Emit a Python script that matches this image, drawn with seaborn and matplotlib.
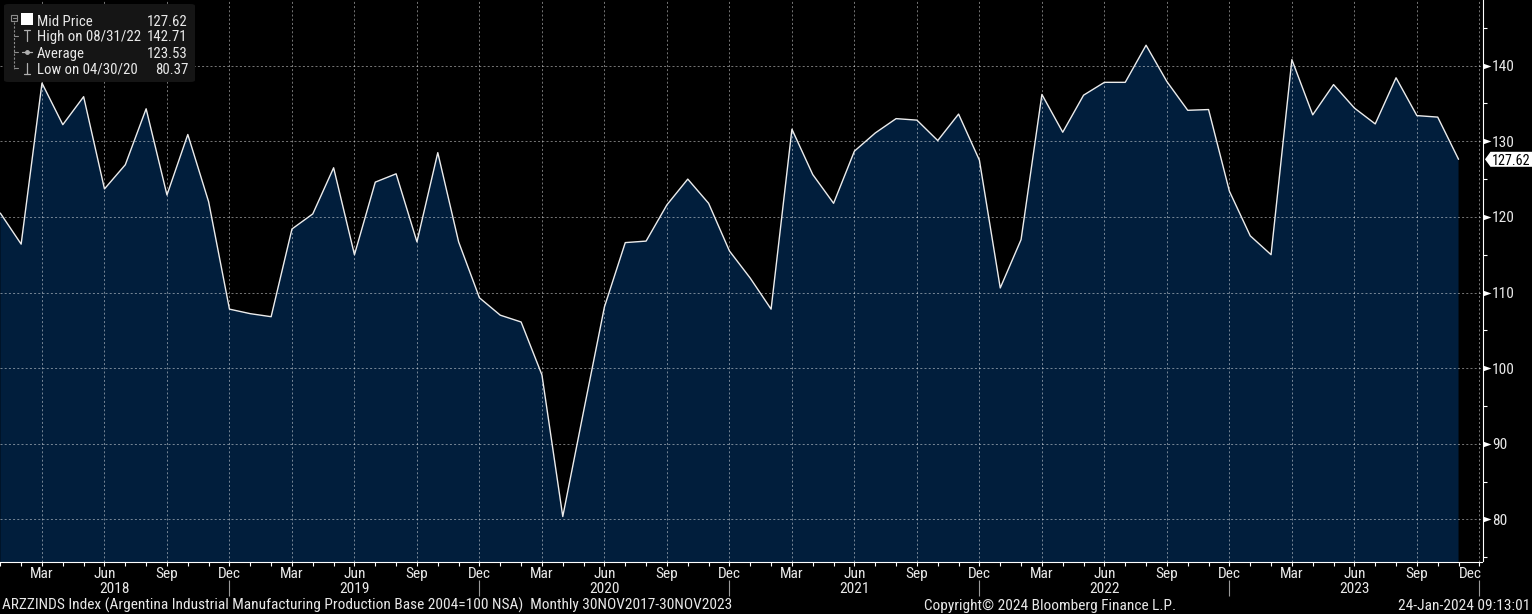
import os
import numpy as np
import pandas as pd
import matplotlib
matplotlib.use('Agg')
import matplotlib.pyplot as plt
import matplotlib.transforms as mtransforms
from matplotlib.patches import FancyBboxPatch, Polygon, Rectangle
from matplotlib.lines import Line2D
from matplotlib.path import Path
from matplotlib import font_manager as fm
import seaborn as sns

# ---------------- data ----------------
start_month = '2018-01'
values_2018 = [120.5, 116.4, 137.7, 132.2, 135.9, 123.7, 126.9, 134.3, 122.9, 130.9, 122.0, 107.8]
values_2019 = [107.2, 106.8, 118.4, 120.4, 126.5, 115.0, 124.6, 125.7, 116.7, 128.5, 116.7, 109.3]
values_2020 = [107.0, 106.1, 99.1, 80.37, 94.3, 108.1, 116.6, 116.8, 121.6, 125.0, 121.8, 115.5]
values_2021 = [111.9, 107.8, 131.6, 125.6, 121.8, 128.7, 131.1, 133.0, 132.8, 130.1, 133.6, 127.5]
values_2022 = [110.6, 117.0, 136.2, 131.2, 136.1, 137.8, 137.8, 142.71, 137.9, 134.1, 134.2, 123.4]
values_2023 = [117.5, 115.0, 140.8, 133.5, 137.5, 134.4, 132.3, 138.4, 133.4, 133.2, 127.62]
values = values_2018 + values_2019 + values_2020 + values_2021 + values_2022 + values_2023
months = pd.period_range(start_month, periods=len(values), freq='M')

quarter_labels = ['Mar', 'Jun', 'Sep', 'Dec']
year_labels = ['2018', '2019', '2020', '2021', '2022', '2023']
y_major = [80, 90, 100, 110, 120, 130, 140]
y_minor = [75, 85, 95, 105, 115, 125, 135, 145]

legend_labels = ['Mid Price', 'High on 08/31/22', 'Average', 'Low on 04/30/20']
legend_values = ['127.62', '142.71', '123.53', '80.37']
last_label = '127.62'
footer_left = 'ARZZINDS Index (Argentina Industrial Manufacturing Production Base 2004=100 NSA)  Monthly 30NOV2017-30NOV2023'
footer_mid = 'Copyright\u00a9 2024 Bloomberg Finance L.P.'
footer_right = '24-Jan-2024 09:13:01'

# ---------------- style ----------------
sns.set_style('dark', {'axes.facecolor': 'black', 'figure.facecolor': 'black'})


def pick_font():
    bad = ['bold', 'italic', 'oblique', 'light', 'medium', 'black', 'thin', 'semibold', 'heavy', 'mono']
    best, best_score = None, -1
    for f in fm.fontManager.ttflist:
        base = os.path.basename(f.fname).lower()
        if any(b in base for b in bad) or f.style != 'normal':
            continue
        score = -1
        if f.name in ('Liberation Sans Narrow', 'Arial Narrow'):
            score = 10
        elif 'notosans-condensed' in base or 'notosanscondensed' in base.replace('-', ''):
            score = 9
        elif 'robotocondensed' in base.replace('-', '').replace('_', ''):
            score = 8
        elif 'notosans-semicondensed' in base:
            score = 7.5
        elif 'opensans' in base and 'condensed' in base and 'semi' not in base and 'extra' not in base:
            score = 7
        elif 'dejavusanscondensed' in base:
            score = 6
        if score > best_score:
            best, best_score = f, score
    return best


fobj = pick_font()
if fobj is not None:
    FP = fm.FontProperties(fname=fobj.fname)
    plt.rcParams['font.family'] = [fobj.name, 'DejaVu Sans']
    plt.rcParams['font.stretch'] = fobj.stretch
else:
    FP = fm.FontProperties(family='DejaVu Sans')
    plt.rcParams['font.family'] = ['DejaVu Sans']

TXT = '#e8e8e8'
FILL = '#011e3c'

W, H = 1532, 614
fig = plt.figure(figsize=(W / 100, H / 100), dpi=100, facecolor='black')
renderer = fig.canvas.get_renderer()


def text_width(s, size):
    p = FP.copy()
    p.set_size(size)
    t = fig.text(0, 0, s, fontproperties=p)
    w = t.get_window_extent(renderer).width
    t.remove()
    return w


# font size: footer a little wider than the reference (699 px) to keep glyph height closer
FS = min(11.2, 10 * 730 / text_width(footer_left, 10))


def fprop(size=None):
    p = FP.copy()
    p.set_size(FS if size is None else size)
    return p


# legend size: keep a gap between the label and value columns (37..188 px)
LFS = FS
while LFS > 7:
    need = max(text_width(a, LFS) + text_width(b, LFS) for a, b in zip(legend_labels, legend_values))
    if need <= 188 - 37 - 5:
        break
    LFS -= 0.1

ax_left, ax_right, ax_top, ax_bot = 0, 1482.5, 0, 561.5
ax = fig.add_axes([ax_left / W, 1 - ax_bot / H, (ax_right - ax_left) / W, (ax_bot - ax_top) / H])
ax.set_facecolor('black')

x = np.arange(len(values))
ax.fill_between(x, values, 0, color=FILL, lw=0, zorder=1)
sns.lineplot(x=x, y=values, ax=ax, color='#ececec', lw=1.0, zorder=3)

ax.set_xlim(-0.015, len(values) + 0.15)
ax.set_ylim(74.42, 148.69)

qpos = np.arange(2, len(values) + 1, 3)
ax.set_xticks(qpos)
ax.set_xticklabels([quarter_labels[i % 4] for i in range(len(qpos))])
ax.set_xticks(np.arange(0, len(values) + 1), minor=True)
ax.yaxis.tick_right()
ax.set_yticks(y_major)
ax.set_yticks(y_minor, minor=True)
ax.set_axisbelow('line')
ax.grid(True, which='major', color='white', alpha=0.45, lw=0.72, ls=(0, (2, 2.2)))

for s in ['left', 'top']:
    ax.spines[s].set_visible(False)
for s in ['right', 'bottom']:
    ax.spines[s].set_visible(True)
    ax.spines[s].set_color('white')
    ax.spines[s].set_linewidth(0.8)

ax.tick_params(axis='x', which='both', direction='out', length=3.2, width=0.8, color='white',
               labelcolor=TXT, labelsize=FS, pad=0.8, bottom=True)
ax.tick_params(axis='y', which='major', length=0, pad=7, labelcolor=TXT, labelsize=FS, right=True, left=False)
ax.tick_params(axis='y', which='minor', direction='out', length=3, width=0.8, color='white', right=True, left=False)
ax.set_xlabel('')
ax.set_ylabel('')
for lbl in ax.get_xticklabels() + ax.get_yticklabels():
    lbl.set_fontproperties(fprop())

lbls = ax.get_xticklabels()
off = mtransforms.ScaledTranslation(-9 / 100, 0, fig.dpi_scale_trans)
lbls[-1].set_transform(lbls[-1].get_transform() + off)

# triangle tick markers on the right axis
tri = Path([(0, -0.7), (2, 0), (0, 0.7), (0, -0.7)], [Path.MOVETO, Path.LINETO, Path.LINETO, Path.CLOSEPOLY])
yblend = mtransforms.blended_transform_factory(ax.transAxes, ax.transData)
ax.plot(np.ones(len(y_major)), y_major, ls='none', marker=tri, markersize=11.5, color='white',
        mec='none', transform=yblend, clip_on=False, zorder=5)

# year labels and separators
xblend = mtransforms.blended_transform_factory(ax.transData, ax.transAxes)
x0, x1 = ax.get_xlim()
dec_pos = np.arange(11, len(values) + 1, 12)
for k, yl in enumerate(year_labels):
    lo = max(x0, dec_pos[k] - 12)
    hi = min(x1, dec_pos[k])
    ax.text((lo + hi) / 2, (ax_bot - 593) / (ax_bot - ax_top), yl, transform=xblend, ha='center',
            va='baseline', color=TXT, fontproperties=fprop())
ax.vlines(dec_pos, (ax_bot - 580) / ax_bot, (ax_bot - 596) / ax_bot, transform=xblend,
          colors='#9a9a9a', lw=0.8, clip_on=False)

# last value tag
fig.canvas.draw()
spine_x = ax.transAxes.transform((1, 0))[0]
ty = ax.transData.transform((0, values[-1]))[1]
hh = 7.5
TFS = FS
while TFS > 7 and text_width(last_label, TFS) > W - (spine_x + 9) - 2:
    TFS -= 0.1
tag = Polygon([(spine_x + 2.5, ty), (spine_x + 8, ty + hh), (W, ty + hh), (W, ty - hh), (spine_x + 8, ty - hh)],
              closed=True, fc='white', ec='none', transform=mtransforms.IdentityTransform())
fig.add_artist(tag)
fig.text((spine_x + 9) / W, ty / H, last_label, color='black', fontproperties=fprop(TFS), ha='left',
         va='center_baseline')


def fx(px):
    return px / W


def fy(py):
    return 1 - py / H


# legend box (top-left)
box = FancyBboxPatch((fx(4), fy(82)), fx(191), 78 / H, boxstyle='round,pad=0,rounding_size=0.003',
                     transform=fig.transFigure, fc='#151515', ec='none', zorder=1)
fig.add_artist(box)
gray = '#8c8c8c'
fig.add_artist(Rectangle((fx(11), fy(21)), 6 / W, 6 / H, transform=fig.transFigure, fill=False, ec=gray, lw=0.8))
fig.add_artist(Line2D([fx(12.5), fx(15.5)], [fy(18), fy(18)], transform=fig.transFigure, color=gray, lw=0.8))
fig.add_artist(Line2D([fx(14), fx(14)], [fy(22), fy(68.5)], transform=fig.transFigure, color=gray, lw=0.8,
                      ls=(0, (2, 1.5))))
for ry in [36, 52.3, 68.3]:
    fig.add_artist(Line2D([fx(14), fx(18)], [fy(ry), fy(ry)], transform=fig.transFigure, color=gray, lw=0.8))
fig.add_artist(Rectangle((fx(21), fy(25)), 12 / W, 12 / H, transform=fig.transFigure, fc='white', ec='none'))
icol = '#b0b0b0'
fig.add_artist(Line2D([fx(27), fx(27)], [fy(30), fy(41)], transform=fig.transFigure, color=icol, lw=0.9))
fig.add_artist(Line2D([fx(24), fx(30)], [fy(30), fy(30)], transform=fig.transFigure, color=icol, lw=0.9))
fig.add_artist(Line2D([fx(22), fx(32)], [fy(52.3), fy(52.3)], transform=fig.transFigure, color=icol, lw=0.9))
fig.add_artist(Line2D([fx(27)], [fy(52.3)], transform=fig.transFigure, color=icol, marker='o', markersize=2.5))
fig.add_artist(Line2D([fx(27), fx(27)], [fy(63), fy(74)], transform=fig.transFigure, color=icol, lw=0.9))
fig.add_artist(Line2D([fx(24), fx(30)], [fy(74), fy(74)], transform=fig.transFigure, color=icol, lw=0.9))
for ry, lab, val in zip([26, 41.3, 57.6, 73.6], legend_labels, legend_values):
    fig.text(fx(37), fy(ry), lab, color=TXT, fontproperties=fprop(LFS), ha='left', va='baseline', zorder=4)
    fig.text(fx(188), fy(ry), val, color=TXT, fontproperties=fprop(LFS), ha='right', va='baseline', zorder=4)

# footer
fig.text(fx(2), fy(610), footer_left, color=TXT, fontproperties=fprop(), ha='left', va='baseline')
fig.text(fx(1050), fy(610), footer_mid, color=TXT, fontproperties=fprop(), ha='center', va='baseline')
fig.text(fx(1530), fy(610), footer_right, color=TXT, fontproperties=fprop(), ha='right', va='baseline')

fig.savefig('out.png', dpi=100, facecolor='black')
